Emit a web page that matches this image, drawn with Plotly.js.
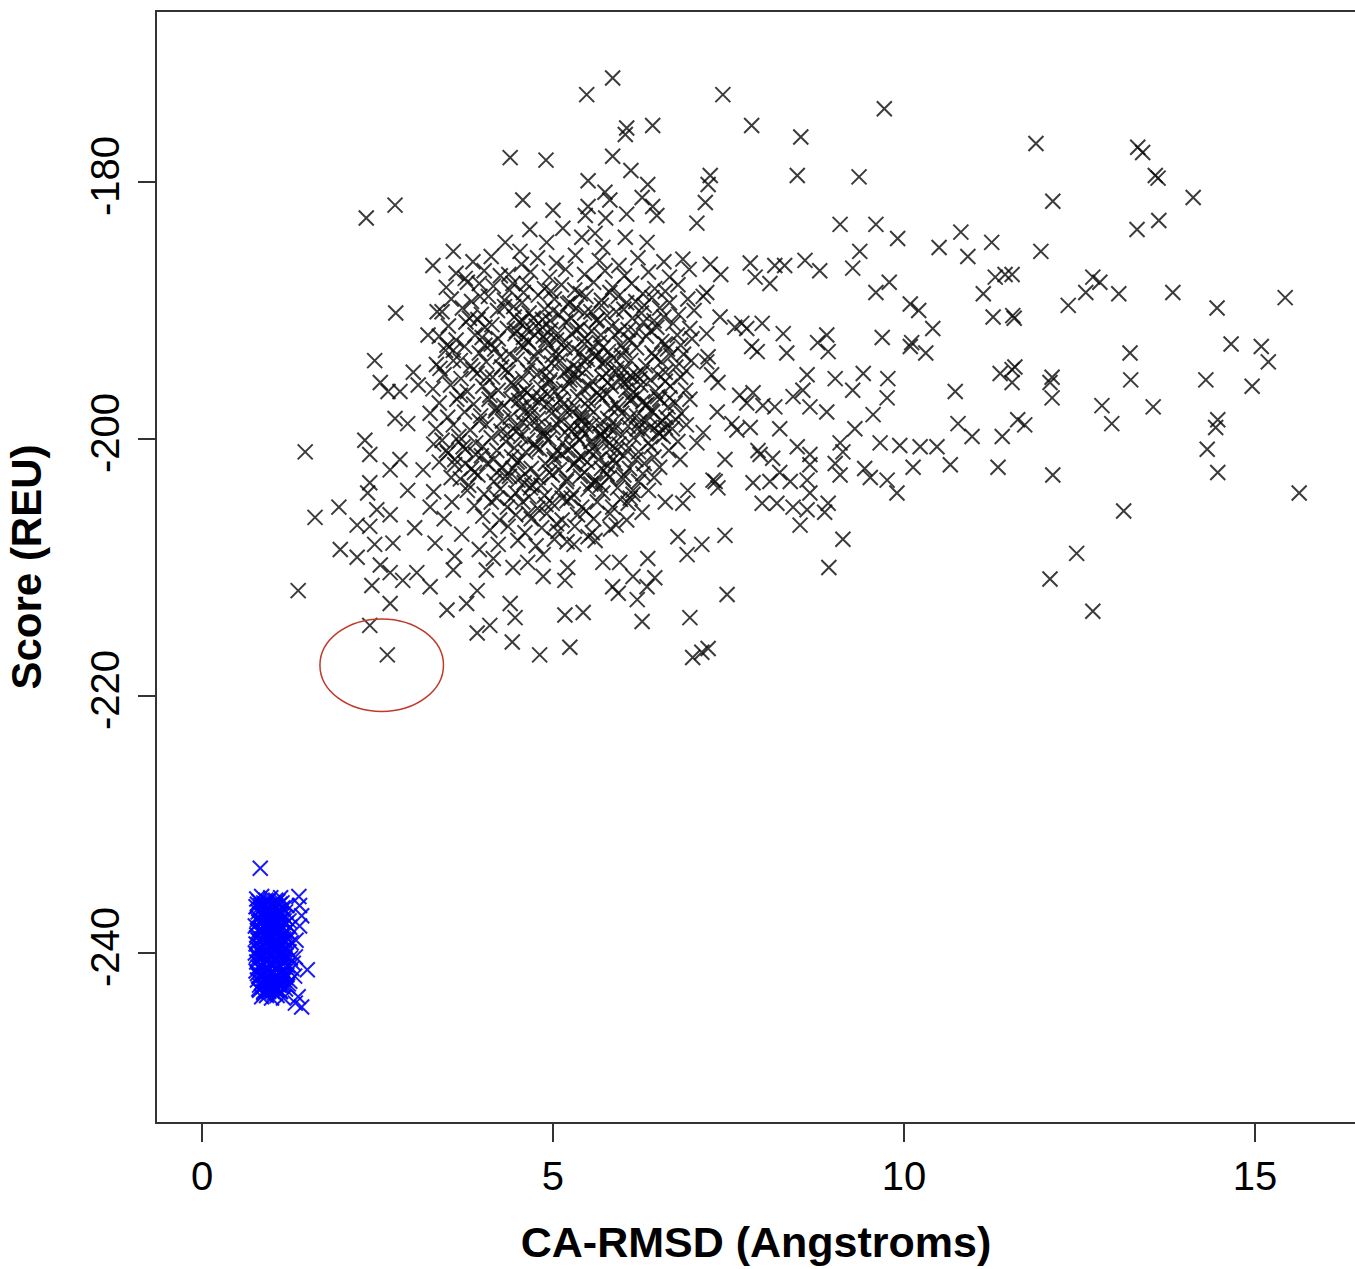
<!DOCTYPE html>
<html>
<head>
<meta charset="utf-8">
<script src="https://cdn.plot.ly/plotly-3.0.1.min.js"></script>
<style>html,body{margin:0;padding:0;background:#fff;}#chart{width:1355px;height:1269px;}</style>
</head>
<body>
<div id="chart"></div>
<script>
// ---- Data: [CA-RMSD (Angstroms), Score (REU)] ----
const decoysTop = [
[5.85,-171.9],[5.48,-173.2],[7.42,-173.2],[9.72,-174.3],[7.83,-175.6],[8.53,-176.5],[6.42,-175.6],[6.05,-175.8],[6.03,-176.3],[4.39,-178.1],[4.90,-178.3],[5.85,-178.0],[11.88,-177.0],[13.33,-177.3],[13.40,-177.7],[13.58,-179.5],[13.62,-179.7],[9.36,-179.6],[8.48,-179.5],[7.24,-179.5],[7.21,-180.2],[7.17,-181.6],[7.05,-183.2],[2.34,-182.8],[2.75,-181.8],[14.12,-181.2],[12.12,-181.5],[6.11,-179.1],[6.35,-180.2],[5.50,-179.9],[5.74,-180.8],[5.81,-181.4],[4.57,-181.4],[5.00,-182.2],[5.50,-181.9],[5.46,-182.6],[5.75,-182.8],[6.05,-182.5],[6.27,-181.2],[6.42,-181.9],[6.48,-182.6],[5.14,-183.6],[4.67,-183.7],[5.41,-184.3],[5.60,-184.0],[6.03,-184.3],[6.34,-184.7],[5.71,-185.1],[4.91,-184.7],[4.32,-184.7],[4.53,-185.4]
];
const decoysRight = [
[13.32,-183.7],[13.63,-183.0],[9.09,-183.3],[9.60,-183.3],[9.91,-184.4],[10.50,-185.1],[10.81,-183.9],[10.91,-185.8],[11.25,-184.7],[11.95,-185.4],[9.37,-185.4],[9.27,-186.7],[8.59,-186.1],[8.80,-186.9],[7.24,-186.4],[7.39,-187.2],[7.81,-186.3],[7.88,-187.4],[8.09,-187.9],[8.16,-186.5],[8.30,-186.5],[9.79,-187.8],[9.60,-188.6],[10.09,-189.5],[10.21,-190.0],[10.41,-191.4],[9.69,-192.1],[10.11,-192.5],[10.09,-192.8],[10.31,-193.3],[11.13,-188.7],[11.30,-187.4],[11.44,-187.2],[11.54,-187.2],[11.27,-190.5],[11.55,-190.4],[7.19,-188.6],[7.14,-188.9],[7.38,-190.5],[7.19,-191.8],[7.59,-191.3],[7.69,-191.0],[7.76,-191.4],[7.98,-191.0],[8.28,-191.8],[7.83,-192.8],[7.91,-193.2],[8.33,-193.3],[8.77,-192.5],[8.90,-191.9],[8.92,-193.2],[7.21,-193.6],
[7.19,-194.0],[7.26,-195.0],[7.35,-195.6],[7.66,-196.6],[7.85,-196.4],[7.76,-197.2],[7.99,-197.4],[8.16,-197.5],[7.34,-197.9],[7.55,-198.8],[7.62,-199.3],[7.81,-199.1],[7.14,-199.5],[8.23,-199.2],[8.42,-196.7],[8.62,-195.0],[8.56,-196.2],[8.66,-197.5],[8.90,-197.9],[9.02,-195.3],[9.27,-196.2],[9.42,-194.9],[9.77,-195.3],[9.76,-196.8],[9.56,-198.1],[9.30,-199.2],[9.09,-200.3],[9.13,-201.0],[9.02,-201.9],[9.09,-202.8],[9.44,-202.3],[9.52,-203.0],[9.66,-200.3],[9.94,-200.5],[10.23,-200.6],[10.47,-200.6],[10.13,-202.2],[10.66,-202.0],[9.76,-203.2],[9.90,-204.2],[10.73,-196.3],[10.77,-198.8],[10.97,-199.8],[11.40,-199.8],[11.34,-202.2],[11.37,-194.9],[11.54,-194.6],[11.54,-195.6],[11.62,-198.5],[11.72,-198.9],
[7.92,-200.9],[7.95,-201.2],[8.13,-201.5],[8.48,-200.6],[8.66,-201.2],[8.66,-202.0],[8.23,-202.6],[8.38,-203.3],[7.85,-203.4],[8.09,-203.3],[8.62,-203.2],[8.66,-204.2],[7.98,-205.0],[8.19,-205.0],[8.42,-205.3],[8.62,-205.5],[8.87,-205.7],[8.92,-205.0],[8.52,-206.7],[7.45,-201.6],[7.31,-203.3],[7.35,-203.8],[7.45,-207.5],[7.12,-208.2],[9.13,-207.8],[8.93,-210.0],[7.48,-212.1],[7.21,-216.3],[7.12,-216.6],
[12.69,-187.4],[12.79,-187.8],[12.59,-188.6],[12.34,-189.6],[13.06,-188.7],[13.83,-188.6],[14.46,-189.8],[15.43,-189.0],[11.57,-190.6],[13.22,-193.3],[14.66,-192.6],[15.09,-192.8],[15.19,-194.0],[11.58,-194.4],[12.11,-195.2],[12.08,-195.6],[12.11,-196.8],[13.23,-195.4],[14.30,-195.4],[14.96,-195.9],[12.82,-197.4],[13.55,-197.5],[12.96,-198.8],[12.12,-202.8],[14.47,-198.5],[14.44,-199.1],[14.32,-200.8],[14.47,-202.6],[15.63,-204.2],[13.13,-205.6],[12.46,-208.9],[12.08,-210.9],[12.69,-213.4]
];
const decoysLeft = [
[3.29,-186.5],[3.58,-185.4],[2.76,-190.2],[3.35,-190.1],[3.22,-191.9],[3.75,-187.5],[3.95,-187.9],[3.96,-188.9],[4.37,-187.2],[4.43,-187.9],[3.93,-190.7],[4.03,-191.3],[3.99,-192.1],[2.46,-193.9],[3.01,-194.8],[2.54,-195.6],[2.65,-196.3],[2.82,-196.3],[3.08,-195.8],[3.49,-192.7],[3.58,-193.1],[3.39,-194.5],[3.68,-193.9],[3.86,-194.6],[4.06,-195.2],[2.75,-198.4],[2.93,-198.8],[2.32,-200.1],[1.47,-201.0],[1.95,-205.3],[1.61,-206.1],[2.39,-201.2],[2.39,-203.4],[2.36,-204.2],[2.49,-205.5],[2.68,-205.9],[2.21,-206.7],[2.39,-206.8],[3.03,-206.9],[2.72,-208.1],[2.46,-208.2],[1.97,-208.6],[2.21,-209.2],[3.32,-208.1],[2.54,-209.8],[2.68,-210.4],[2.86,-211.0],[3.06,-210.4],[2.42,-211.4],[3.25,-211.5],[2.68,-212.8],[3.49,-213.3],[3.77,-212.8],[3.92,-211.8],[3.58,-210.2],[1.37,-211.8],[2.39,-214.5],[2.64,-216.8],[3.92,-215.1],[4.10,-214.5],[4.42,-215.8],[4.39,-212.8],[4.43,-210.0],[3.25,-205.3],[3.56,-204.9],[2.93,-204.0],[2.68,-202.4],[2.82,-201.6],[3.15,-202.4],
[3.45,-206.2],[3.70,-207.4],[3.95,-208.6],[3.60,-209.1],[4.05,-210.2],[3.80,-203.6],[3.55,-203.0],[3.30,-204.1],[4.15,-209.3]
];
const decoysBottom = [
[6.81,-201.6],[7.05,-200.3],[7.28,-203.2],[6.92,-204.0],[6.85,-205.0],[6.60,-204.9],[6.14,-204.0],[6.27,-205.7],[6.78,-207.6],[6.91,-209.0],[6.35,-209.3],[5.71,-209.6],[5.95,-209.6],[6.14,-210.7],[6.45,-210.8],[5.85,-211.5],[5.93,-212.0],[6.20,-212.5],[6.34,-211.5],[6.27,-214.2],[6.95,-213.9],[5.17,-213.7],[5.43,-213.5],[4.81,-216.8],[5.24,-216.2],[6.99,-217.0],[4.86,-209.0],[4.86,-210.7],[5.21,-210.0],[5.17,-211.0],[4.46,-213.9],[4.64,-209.6],[5.20,-208.0],[5.50,-207.6]
];
const decoysCore = [
[3.86,-186.2],[4.12,-185.8],[4.55,-186.4],[4.78,-185.9],[5.05,-186.3],[5.32,-185.7],[5.66,-186.1],[5.94,-186.5],[6.21,-185.9],[6.58,-186.2],[6.85,-186.0],
[3.62,-187.1],[4.02,-186.9],[4.25,-187.3],[4.68,-187.0],[4.95,-187.4],[5.18,-186.8],[5.45,-187.2],[5.74,-186.9],[6.02,-187.3],[6.36,-187.0],[6.66,-187.4],[6.94,-186.8],
[3.48,-188.2],[3.78,-187.8],[4.15,-188.1],[4.38,-188.4],[4.62,-187.9],[4.88,-188.3],[5.12,-188.0],[5.31,-188.4],[5.58,-187.8],[5.85,-188.2],[6.12,-187.9],[6.45,-188.3],[6.78,-188.0],
[3.55,-189.1],[3.84,-189.3],[4.08,-188.9],[4.31,-189.2],[4.56,-189.4],[4.79,-188.8],[5.02,-189.1],[5.24,-189.4],[5.47,-188.9],[5.69,-189.2],[5.93,-188.9],[6.18,-189.3],[6.41,-189.0],[6.66,-189.4],[6.92,-189.1],
[3.42,-190.1],[3.71,-189.8],[3.98,-190.3],[4.21,-190.0],[4.44,-189.7],[4.66,-190.2],[4.88,-189.9],[5.09,-190.3],[5.33,-189.8],[5.54,-190.1],[5.77,-190.4],[6.01,-189.9],[6.26,-190.2],[6.52,-189.8],[6.79,-190.3],[7.01,-190.0],
[3.51,-191.2],[3.76,-190.9],[4.13,-191.1],[4.35,-191.4],[4.57,-190.8],[4.76,-191.2],[4.97,-191.5],[5.18,-190.9],[5.39,-191.3],[5.62,-190.8],[5.84,-191.2],[6.07,-191.5],[6.29,-190.9],[6.48,-191.3],[6.71,-191.0],[6.95,-191.4],
[3.38,-192.0],[3.62,-192.3],[3.89,-191.9],[4.22,-192.2],[4.46,-191.8],[4.65,-192.4],[4.86,-192.0],[5.05,-192.3],[5.26,-191.8],[5.45,-192.2],[5.66,-192.5],[5.88,-191.9],[6.10,-192.3],[6.33,-192.0],[6.55,-192.4],[6.77,-191.9],[6.98,-192.2],
[3.47,-193.1],[3.74,-192.8],[3.95,-193.3],[4.17,-193.0],[4.38,-193.4],[4.58,-192.9],[4.78,-193.2],[4.99,-193.5],[5.17,-192.9],[5.38,-193.3],[5.57,-192.8],[5.79,-193.2],[5.98,-193.5],[6.19,-192.9],[6.41,-193.3],[6.63,-193.0],[6.86,-193.4],
[3.34,-194.2],[3.58,-193.9],[3.83,-194.3],[4.05,-194.0],[4.27,-194.4],[4.49,-193.8],[4.69,-194.2],[4.90,-194.5],[5.10,-193.9],[5.29,-194.3],[5.49,-193.8],[5.70,-194.1],[5.91,-194.5],[6.11,-193.9],[6.32,-194.3],[6.54,-194.0],[6.75,-194.4],[6.97,-193.9],
[3.45,-195.0],[3.69,-195.3],[3.92,-194.9],[4.14,-195.2],[4.36,-194.8],[4.57,-195.3],[4.77,-195.0],[4.96,-195.4],[5.16,-194.8],[5.36,-195.2],[5.56,-195.5],[5.76,-194.9],[5.97,-195.3],[6.18,-195.0],[6.39,-195.4],[6.60,-194.8],[6.82,-195.2],
[3.29,-196.1],[3.54,-195.8],[3.78,-196.3],[4.00,-195.9],[4.22,-196.2],[4.43,-195.8],[4.63,-196.4],[4.83,-196.0],[5.03,-196.3],[5.23,-195.7],[5.43,-196.1],[5.63,-196.4],[5.83,-195.9],[6.04,-196.2],[6.25,-195.8],[6.46,-196.3],[6.67,-195.9],[6.89,-196.2],
[3.38,-197.2],[3.63,-196.9],[3.87,-197.3],[4.09,-196.9],[4.30,-197.4],[4.51,-197.0],[4.71,-196.8],[4.91,-197.3],[5.11,-196.9],[5.30,-197.4],[5.50,-197.0],[5.70,-196.8],[5.90,-197.3],[6.10,-197.0],[6.31,-197.4],[6.52,-196.9],[6.74,-197.2],[6.95,-196.9],
[3.25,-198.0],[3.50,-198.3],[3.74,-197.9],[3.97,-198.2],[4.18,-197.8],[4.39,-198.3],[4.59,-197.9],[4.79,-198.4],[4.98,-198.0],[5.18,-197.8],[5.38,-198.3],[5.58,-197.9],[5.78,-198.4],[5.98,-198.0],[6.19,-198.2],[6.40,-197.8],[6.61,-198.3],[6.83,-198.0],
[3.33,-199.2],[3.58,-198.9],[3.82,-199.3],[4.05,-198.9],[4.26,-199.4],[4.47,-199.0],[4.67,-198.8],[4.87,-199.3],[5.07,-198.9],[5.27,-199.4],[5.47,-199.0],[5.67,-198.8],[5.87,-199.3],[6.07,-199.0],[6.28,-199.4],[6.49,-198.9],[6.70,-199.2],[6.90,-198.9],
[3.42,-200.1],[3.66,-199.8],[3.90,-200.3],[4.12,-199.9],[4.33,-200.2],[4.54,-199.8],[4.74,-200.4],[4.94,-200.0],[5.14,-200.3],[5.34,-199.8],[5.54,-200.2],[5.74,-200.0],[5.94,-200.4],[6.15,-199.9],[6.36,-200.3],[6.57,-199.8],[6.78,-200.2],
[3.50,-201.1],[3.75,-200.8],[3.98,-201.3],[4.20,-200.9],[4.41,-201.4],[4.61,-201.0],[4.81,-200.8],[5.01,-201.3],[5.21,-200.9],[5.41,-201.4],[5.61,-201.0],[5.81,-200.8],[6.01,-201.3],[6.22,-201.0],[6.44,-201.4],[6.65,-200.9],
[3.60,-202.0],[3.84,-202.3],[4.06,-201.9],[4.28,-202.2],[4.49,-201.8],[4.69,-202.3],[4.89,-201.9],[5.09,-202.4],[5.29,-202.0],[5.49,-201.8],[5.69,-202.3],[5.89,-201.9],[6.09,-202.3],[6.30,-201.9],[6.52,-202.2],
[3.68,-203.1],[3.93,-202.8],[4.16,-203.3],[4.38,-202.9],[4.59,-203.4],[4.79,-203.0],[4.99,-202.8],[5.19,-203.3],[5.39,-202.9],[5.60,-203.4],[5.80,-203.0],[6.01,-202.8],[6.22,-203.3],[6.44,-203.0],
[3.78,-204.0],[4.02,-204.3],[4.25,-203.9],[4.47,-204.2],[4.68,-203.8],[4.88,-204.4],[5.08,-204.0],[5.29,-204.3],[5.50,-203.9],[5.71,-204.2],[5.92,-203.8],[6.14,-204.3],[6.36,-204.0],
[3.88,-205.2],[4.12,-204.9],[4.35,-205.3],[4.57,-204.9],[4.78,-205.4],[4.99,-205.0],[5.20,-204.8],[5.41,-205.3],[5.63,-204.9],[5.85,-205.3],[6.07,-205.0],
[4.00,-206.0],[4.24,-206.3],[4.47,-205.9],[4.69,-206.2],[4.91,-205.8],[5.13,-206.3],[5.35,-205.9],[5.58,-206.2],[5.81,-205.8],[6.05,-206.3],
[4.10,-207.1],[4.36,-206.8],[4.60,-207.3],[4.84,-206.9],[5.07,-207.2],[5.31,-206.8],[5.56,-207.3],[5.82,-207.0],
[4.22,-208.2],[4.50,-207.9],[4.76,-208.3],[5.02,-207.8],[5.30,-208.2],[5.60,-207.9]
];
const decoysDense = [
[4.31,-189.7],[4.72,-190.6],[5.21,-189.5],[5.63,-190.7],[6.05,-189.4],[6.44,-190.8],
[4.48,-191.6],[4.93,-192.7],[5.34,-191.5],[5.71,-192.9],[6.18,-191.7],[6.60,-192.6],
[4.25,-193.6],[4.64,-194.7],[5.08,-193.4],[5.47,-194.6],[5.86,-193.7],[6.27,-194.8],[6.68,-193.5],
[4.41,-195.6],[4.82,-196.7],[5.24,-195.4],[5.66,-196.6],[6.07,-195.5],[6.49,-196.7],
[4.19,-197.6],[4.57,-198.7],[5.00,-197.5],[5.41,-198.6],[5.82,-197.6],[6.23,-198.7],[6.64,-197.5],
[4.35,-199.6],[4.76,-200.7],[5.17,-199.5],[5.58,-200.6],[5.99,-199.7],[6.40,-200.6],
[4.52,-201.7],[4.95,-202.6],[5.36,-201.5],[5.77,-202.7],[6.18,-201.6],
[4.70,-203.6],[5.13,-204.6],[5.54,-203.5],[5.96,-204.7],
[3.68,-196.6],[3.95,-198.6],[3.72,-200.6],[3.88,-202.6],[4.03,-192.7],[3.81,-190.6],
[5.15,-196.1],[5.52,-195.9],[5.90,-198.9],[6.02,-193.1],[5.44,-193.9],[4.87,-199.8],[5.31,-201.9],[5.72,-199.4],[6.12,-196.9],[4.60,-196.2],[4.98,-194.1],[5.78,-195.6],[6.34,-197.3],[5.06,-200.9],[4.43,-202.3]
];
const decoysDense2 = [
[4.58,-188.6],[4.97,-188.5],[5.39,-188.7],[5.81,-188.6],[6.28,-188.7],[6.60,-188.5],
[4.45,-190.5],[4.85,-190.7],[5.26,-190.6],[5.69,-189.6],[6.13,-190.6],[6.58,-190.5],
[4.12,-192.6],[4.55,-192.7],[5.15,-192.5],[5.55,-191.6],[5.97,-192.7],[6.39,-191.6],[6.82,-192.7],
[4.33,-194.6],[4.74,-193.6],[5.20,-194.7],[5.62,-193.5],[6.02,-194.6],[6.45,-193.6],[6.90,-194.7],
[4.10,-196.6],[4.52,-196.5],[4.95,-195.6],[5.35,-196.7],[5.77,-196.5],[6.20,-196.6],[6.60,-195.5],
[4.28,-198.6],[4.70,-197.6],[5.10,-198.5],[5.50,-197.5],[5.93,-197.6],[6.33,-198.6],[6.75,-198.5],
[4.00,-200.6],[4.45,-200.7],[4.86,-199.6],[5.27,-200.6],[5.68,-199.6],[6.08,-200.7],[6.50,-199.5],
[4.20,-202.6],[4.60,-202.7],[5.02,-201.6],[5.45,-202.6],[5.86,-201.6],[6.28,-202.7],
[4.40,-204.6],[4.83,-203.6],[5.26,-204.6],[5.68,-203.6],[6.10,-204.6],
[4.65,-205.8],[5.05,-206.6],[5.47,-205.6],[5.90,-206.7],
[5.00,-190.0],[5.45,-190.2],[5.90,-190.1],[6.30,-189.6],[4.90,-195.1],[5.30,-195.0],[5.70,-195.2],[6.10,-195.1],[6.50,-195.0],[5.00,-199.1],[5.40,-199.2],[5.80,-199.1],[6.20,-199.2],[6.60,-199.1],[5.20,-203.1],[5.60,-203.2],[6.00,-203.1]
];
const decoysDense3 = [
[4.52,-190.9],[4.63,-191.5],[4.74,-191.9],[4.85,-191.3],[4.96,-190.8],[5.07,-191.8],[4.58,-192.1],[4.90,-192.3],
[5.15,-197.3],[5.28,-197.9],[5.42,-198.3],[5.55,-198.9],[5.68,-199.8],[5.81,-200.3],[5.25,-199.0],[5.38,-200.1],[5.52,-201.0],[5.65,-201.6],[5.78,-202.1],[5.12,-201.2],[5.91,-200.9],[5.46,-199.6],
[3.30,-200.4],[3.48,-200.9],[3.60,-201.6],[3.75,-201.9],[3.90,-201.2],[3.38,-201.8],[3.66,-200.2],
[6.00,-195.6],[6.14,-196.4],[6.28,-197.1],[6.42,-197.9],[6.56,-198.6],[6.10,-198.3],[6.38,-199.1],[6.66,-196.8],[6.24,-195.3],[6.52,-199.6],
[4.40,-196.9],[4.55,-197.5],[4.68,-198.1],[4.80,-197.1],[4.92,-196.5],[4.48,-199.4],[4.64,-200.1],[4.78,-199.0],
[5.30,-193.0],[5.45,-192.6],[5.60,-193.6],[5.75,-194.0],[5.90,-194.8],[5.35,-194.5],[5.68,-191.9],[5.95,-191.6],
[4.15,-201.6],[4.32,-202.9],[4.50,-203.2],[4.66,-204.5],[4.20,-204.6],[4.90,-205.1]
];
const nativeRelaxed = [
[0.78,-235.8],[0.85,-235.6],[0.91,-235.9],[0.98,-235.7],[1.05,-235.9],[1.12,-235.7],
[0.77,-236.4],[0.83,-236.6],[0.90,-236.3],[0.96,-236.6],[1.02,-236.4],[1.09,-236.7],[1.15,-236.5],[1.21,-236.3],
[0.79,-237.2],[0.85,-237.0],[0.92,-237.3],[0.98,-237.1],[1.05,-237.3],[1.11,-237.0],[1.18,-237.2],[1.24,-237.5],
[0.76,-237.9],[0.83,-238.1],[0.89,-237.8],[0.95,-238.0],[1.02,-237.8],[1.08,-238.1],[1.14,-237.9],[1.20,-238.3],
[0.78,-238.6],[0.84,-238.4],[0.91,-238.7],[0.97,-238.5],[1.04,-238.7],[1.10,-238.4],[1.17,-238.6],[1.23,-238.9],
[0.77,-239.3],[0.83,-239.5],[0.89,-239.2],[0.95,-239.4],[1.01,-239.2],[1.08,-239.5],[1.14,-239.3],[1.21,-239.6],
[0.76,-240.0],[0.82,-239.8],[0.88,-240.1],[0.94,-239.9],[1.01,-240.1],[1.07,-239.8],[1.13,-240.0],[1.20,-240.2],[1.26,-240.4],
[0.78,-240.7],[0.84,-240.9],[0.90,-240.6],[0.97,-240.8],[1.03,-240.6],[1.10,-240.9],[1.16,-240.7],[1.22,-241.0],
[0.77,-241.4],[0.83,-241.2],[0.89,-241.5],[0.95,-241.3],[1.02,-241.5],[1.08,-241.2],[1.15,-241.4],[1.21,-241.7],
[0.79,-242.1],[0.85,-242.3],[0.91,-242.0],[0.97,-242.2],[1.04,-242.0],[1.10,-242.3],[1.17,-242.1],[1.23,-242.4],
[0.81,-242.8],[0.87,-242.6],[0.93,-242.9],[1.00,-242.7],[1.06,-242.9],[1.13,-242.6],[1.19,-242.8],
[0.85,-243.4],[0.92,-243.3],[0.99,-243.5],[1.07,-243.3],[1.16,-243.5],
[0.83,-233.4],[1.38,-235.6],[1.39,-236.3],[1.42,-237.1],[1.39,-237.9],[1.34,-239.0],[1.50,-241.3],[1.37,-243.4],[1.42,-244.2],[1.33,-243.9],[1.32,-241.8],[1.33,-240.3]
];
const nativeRelaxed2 = [
[0.81,-236.0],[0.88,-236.1],[0.94,-236.0],[1.01,-236.1],[1.08,-236.0],[1.14,-236.1],
[0.80,-236.8],[0.87,-236.9],[0.93,-236.8],[1.00,-236.9],[1.06,-236.8],[1.13,-236.9],[1.19,-236.8],
[0.81,-237.6],[0.87,-237.5],[0.94,-237.6],[1.00,-237.5],[1.07,-237.6],[1.13,-237.5],[1.20,-237.7],
[0.80,-238.3],[0.86,-238.2],[0.93,-238.3],[0.99,-238.2],[1.06,-238.3],[1.12,-238.2],[1.18,-238.4],
[0.80,-239.0],[0.86,-238.9],[0.92,-239.0],[0.99,-238.9],[1.05,-239.0],[1.12,-238.9],[1.18,-239.0],
[0.79,-239.7],[0.85,-239.6],[0.92,-239.7],[0.98,-239.6],[1.04,-239.7],[1.11,-239.6],[1.17,-239.7],[1.24,-239.9],
[0.80,-240.4],[0.86,-240.3],[0.92,-240.4],[0.99,-240.3],[1.05,-240.4],[1.12,-240.3],[1.18,-240.4],
[0.80,-241.1],[0.86,-241.0],[0.93,-241.1],[0.99,-241.0],[1.06,-241.1],[1.12,-241.0],[1.19,-241.1],
[0.81,-241.8],[0.87,-241.7],[0.93,-241.8],[1.00,-241.7],[1.06,-241.8],[1.13,-241.7],[1.19,-241.9],
[0.82,-242.5],[0.89,-242.4],[0.95,-242.5],[1.02,-242.4],[1.09,-242.5],[1.15,-242.4],[1.22,-242.6],
[0.88,-243.1],[0.95,-243.0],[1.03,-243.1],[1.11,-243.0]
];
const nativeRelaxed3 = [
[0.79,-236.2],[0.84,-236.3],[0.89,-236.2],[0.95,-236.3],[1.00,-236.2],[1.05,-236.3],[1.11,-236.2],
[0.79,-237.4],[0.84,-237.5],[0.90,-237.4],[0.95,-237.5],[1.01,-237.4],[1.06,-237.5],[1.12,-237.4],[1.17,-237.5],
[0.78,-238.8],[0.84,-238.9],[0.89,-238.8],[0.95,-238.9],[1.00,-238.8],[1.06,-238.9],[1.11,-238.8],[1.16,-238.9],
[0.78,-240.2],[0.84,-240.1],[0.89,-240.2],[0.95,-240.1],[1.00,-240.2],[1.06,-240.1],[1.11,-240.2],[1.16,-240.1],
[0.79,-241.6],[0.84,-241.7],[0.90,-241.6],[0.95,-241.7],[1.01,-241.6],[1.06,-241.7],[1.12,-241.6],[1.17,-241.7],
[0.82,-242.9],[0.88,-243.0],[0.94,-242.9],[1.00,-243.0],[1.06,-242.9],[1.12,-243.0],
[1.25,-238.0],[1.27,-239.2],[1.28,-241.2],[1.25,-242.2],[1.30,-240.8]
];

// Circled low-energy decoy highlight (data units)
const circleCenter = [2.56, -217.6];
const circleRadius = [0.88, 3.6];

const xTicks = [0, 5, 10, 15];
const yTicks = [-180, -200, -220, -240];
const xTitle = 'CA-RMSD (Angstroms)';
const yTitle = 'Score (REU)';

const decoys = [].concat(decoysTop, decoysRight, decoysLeft, decoysBottom, decoysCore, decoysDense, decoysDense2, decoysDense3);
const natives = [].concat(nativeRelaxed, nativeRelaxed2, nativeRelaxed3);

const font = '"Liberation Sans", Arial, Helvetica, sans-serif';

const traces = [
  {
    type: 'scatter', mode: 'markers',
    x: decoys.map(p => p[0]), y: decoys.map(p => p[1]),
    marker: {symbol: 'x-thin-open', size: 15, color: 'rgba(10,10,10,0.8)', line: {width: 2, color: 'rgba(10,10,10,0.8)'}},
    hoverinfo: 'x+y', showlegend: false
  },
  {
    type: 'scatter', mode: 'markers',
    x: natives.map(p => p[0]), y: natives.map(p => p[1]),
    marker: {symbol: 'x-thin-open', size: 15, color: 'rgba(0,0,255,0.9)', line: {width: 2, color: 'rgba(0,0,255,0.9)'}},
    hoverinfo: 'x+y', showlegend: false
  }
];

const layout = {
  width: 1355, height: 1269,
  margin: {l: 157, r: 0, t: 12, b: 147},
  paper_bgcolor: '#ffffff', plot_bgcolor: '#ffffff',
  font: {family: font, color: '#000'},
  showlegend: false,
  xaxis: {
    range: [-0.641, 16.425], tickmode: 'array', tickvals: xTicks, ticktext: xTicks.map(String),
    ticks: 'outside', ticklen: 18, tickwidth: 1.5, tickcolor: '#333',
    showline: true, linecolor: '#333', linewidth: 2, mirror: true,
    showgrid: false, zeroline: false,
    tickfont: {size: 40, family: font, color: '#000'},
    ticklabelstandoff: 0,
    title: {text: xTitle, font: {size: 43, family: font, weight: 'bold', color: '#000'}, standoff: 30}
  },
  yaxis: {
    range: [-253.15, -166.77], tickmode: 'array', tickvals: yTicks, ticktext: yTicks.map(String),
    ticks: 'outside', ticklen: 17, tickwidth: 1.5, tickcolor: '#333', tickangle: -90,
    showline: true, linecolor: '#333', linewidth: 2, mirror: false,
    showgrid: false, zeroline: false,
    tickfont: {size: 40, family: font, color: '#000'},
    ticklabelstandoff: 3,
    title: {text: yTitle, font: {size: 42, family: font, weight: 'bold', color: '#000'}, standoff: 28}
  },
  shapes: [{
    type: 'circle', xref: 'x', yref: 'y',
    x0: circleCenter[0] - circleRadius[0], x1: circleCenter[0] + circleRadius[0],
    y0: circleCenter[1] - circleRadius[1], y1: circleCenter[1] + circleRadius[1],
    line: {color: '#c0392b', width: 1.5}
  }]
};

Plotly.newPlot('chart', traces, layout, {displayModeBar: false, staticPlot: true});
</script>
</body>
</html>
